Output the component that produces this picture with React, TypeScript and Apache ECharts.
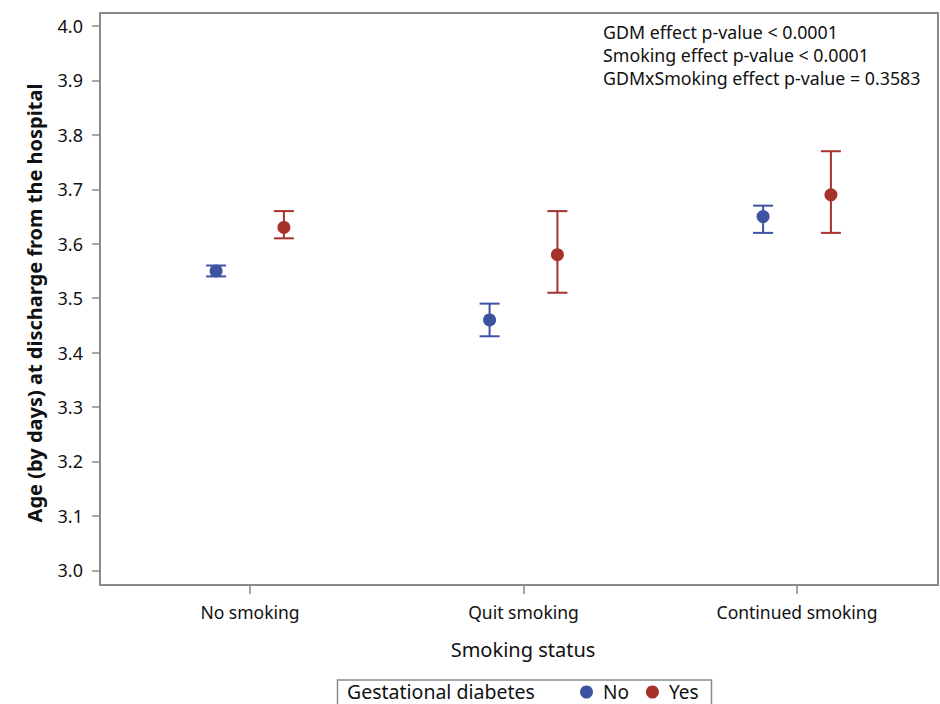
import React, { useEffect, useRef } from "react";
import * as echarts from "echarts";

const categories = ["No smoking", "Quit smoking", "Continued smoking"];
const groups = ["No", "Yes"];
const meanNo = [3.55, 3.46, 3.65];
const lowNo = [3.54, 3.43, 3.62];
const highNo = [3.56, 3.49, 3.67];
const meanYes = [3.63, 3.58, 3.69];
const lowYes = [3.61, 3.51, 3.62];
const highYes = [3.66, 3.66, 3.77];
const yTicks = [3.0, 3.1, 3.2, 3.3, 3.4, 3.5, 3.6, 3.7, 3.8, 3.9, 4.0];
const annotations = [
  "GDM effect p-value < 0.0001",
  "Smoking effect p-value < 0.0001",
  "GDMxSmoking effect p-value = 0.3583",
];
const legendTitle = "Gestational diabetes";

const BLUE = "#3D53A2";
const RED = "#A7322C";
const AXIS = "#8a8a8a";
const FONT = "'Noto Sans', 'Open Sans', sans-serif";
const DODGE = 0.124;

export default function App() {
  const ref = useRef<HTMLDivElement>(null);
  useEffect(() => {
    if (!ref.current) return;
    const chart = echarts.init(ref.current, undefined, { renderer: "svg" });
    const catPos = categories.map((_, i) => i + 1);
    const pts = (means: number[], off: number) =>
      means.map((m, i) => [catPos[i] + off, m]);
    const bars = (lo: number[], hi: number[], off: number) =>
      lo.map((l, i) => [catPos[i] + off, l, hi[i]]);
    const errSeries = (name: string, data: number[][], color: string) => ({
      type: "custom",
      name: name + "_err",
      data,
      encode: { x: 0, y: [1, 2] },
      z: 2,
      renderItem: (params: any, api: any) => {
        const x = api.value(0);
        const p1 = api.coord([x, api.value(1)]);
        const p2 = api.coord([x, api.value(2)]);
        const hw = 10;
        const style = { stroke: color, lineWidth: 2 };
        return {
          type: "group",
          children: [
            { type: "line", shape: { x1: p1[0], y1: p1[1], x2: p2[0], y2: p2[1] }, style },
            { type: "line", shape: { x1: p1[0] - hw, y1: p1[1], x2: p1[0] + hw, y2: p1[1] }, style },
            { type: "line", shape: { x1: p2[0] - hw, y1: p2[1], x2: p2[0] + hw, y2: p2[1] }, style },
          ],
        };
      },
    });
    chart.setOption({
      animation: false,
      textStyle: { fontFamily: FONT },
      grid: {
        left: 100,
        top: 13,
        right: 2,
        bottom: 119,
        show: true,
        borderColor: AXIS,
        borderWidth: 2,
        outerBoundsMode: "none",
      },
      xAxis: {
        type: "value",
        min: 0.4516,
        max: 3.5155,
        splitLine: { show: false },
        axisLine: { show: true, lineStyle: { color: AXIS, width: 2 } },
        axisTick: { show: true, customValues: catPos, length: 9, lineStyle: { color: AXIS, width: 1.5 } },
        axisLabel: {
          customValues: catPos,
          formatter: (v: number) => categories[Math.round(v) - 1] ?? "",
          color: "#111",
          fontSize: 17.5,
          fontFamily: FONT,
          margin: 18,
        },
        name: "Smoking status",
        nameLocation: "middle",
        nameGap: 54,
        nameTextStyle: { color: "#111", fontSize: 20, fontFamily: FONT, padding: [0, 0, 0, 8] },
      },
      yAxis: {
        type: "value",
        min: 2.973,
        max: 4.024,
        splitLine: { show: false },
        axisLine: { show: true, lineStyle: { color: AXIS, width: 2 } },
        axisTick: { show: true, customValues: yTicks, length: 8, lineStyle: { color: AXIS, width: 1.5 } },
        axisLabel: {
          customValues: yTicks,
          formatter: (v: number) => v.toFixed(1),
          color: "#111",
          fontSize: 18,
          fontFamily: FONT,
          margin: 17,
        },
        name: "Age (by days) at discharge from the hospital",
        nameLocation: "middle",
        nameGap: 56,
        nameTextStyle: { color: "#111", fontSize: 20, fontWeight: "bold", fontFamily: FONT, padding: [0, 8, 0, 0] },
      },
      legend: {
        data: groups.map((g, i) => ({ name: g, icon: "circle", itemStyle: { color: i === 0 ? BLUE : RED } })),
        left: 580,
        top: 682,
        padding: 0,
        itemWidth: 13,
        itemHeight: 13,
        itemGap: 17,
        textStyle: { fontSize: 19, lineHeight: 20, color: "#111", fontFamily: FONT, padding: [0, 0, 0, 5] },
      },
      graphic: [
        {
          type: "rect",
          shape: { x: 337.5, y: 680, width: 374, height: 40 },
          style: { fill: "none", stroke: AXIS, lineWidth: 1.5 },
        },
        {
          type: "text",
          x: 347,
          y: 691.5,
          style: { text: legendTitle, fontSize: 19.5, fill: "#111", fontFamily: FONT, verticalAlign: "middle" },
        },
        ...annotations.map((t, i) => ({
          type: "text",
          x: 603,
          y: 31.5 + i * 23,
          style: { text: t, fontSize: 17.8, fill: "#111", fontFamily: FONT, verticalAlign: "middle" },
        })),
      ],
      series: [
        errSeries(groups[0], bars(lowNo, highNo, -DODGE), BLUE),
        errSeries(groups[1], bars(lowYes, highYes, DODGE), RED),
        {
          type: "scatter",
          name: groups[0],
          data: pts(meanNo, -DODGE),
          symbol: "circle",
          symbolSize: 13,
          itemStyle: { color: BLUE, opacity: 1 },
          z: 3,
        },
        {
          type: "scatter",
          name: groups[1],
          data: pts(meanYes, DODGE),
          symbol: "circle",
          symbolSize: 13,
          itemStyle: { color: RED, opacity: 1 },
          z: 3,
        },
      ],
    });
    return () => chart.dispose();
  }, []);
  return <div ref={ref} style={{ position: "fixed", left: 0, top: 0, width: 940, height: 704, background: "#fff" }} />;
}
